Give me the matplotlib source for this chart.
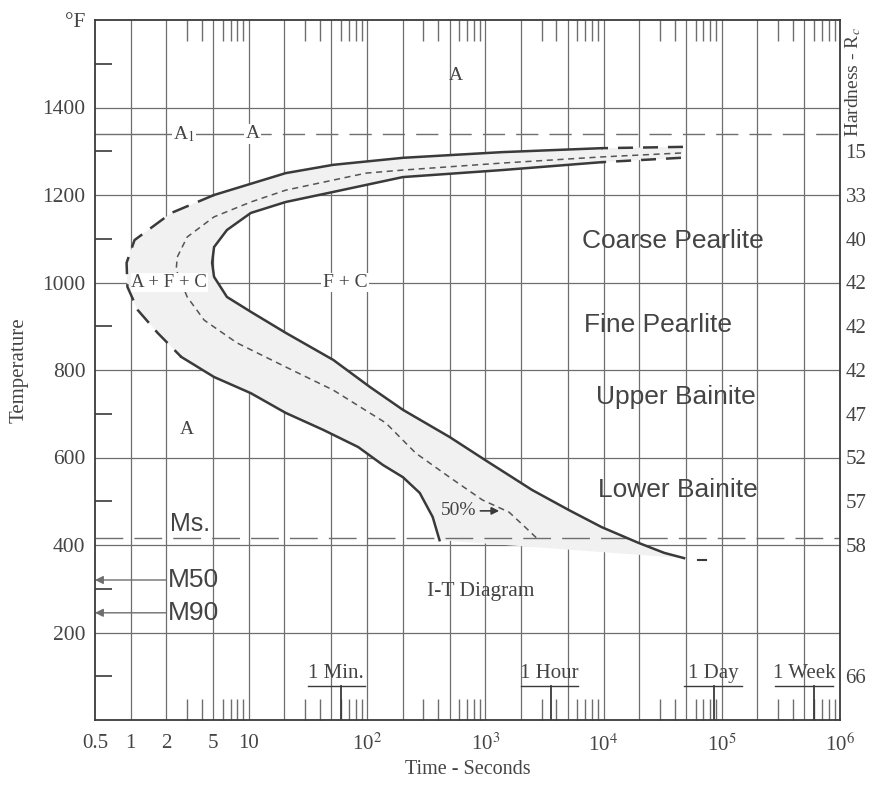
import matplotlib
matplotlib.use("Agg")
import matplotlib.pyplot as plt
from matplotlib.ticker import FixedLocator, FixedFormatter, NullFormatter

# ---------------- data ----------------
# transformation start curve (time s, temperature F)
start_t = [47000, 9600, 1390, 201, 51.8, 20.5, 5.08, 2.21, 1.08, 0.925, 0.94,
           1.15, 1.69, 2.68, 5.08, 10.4, 20.5, 42.7, 84, 136, 201, 279, 359, 410]
start_T = [1310, 1307, 1298, 1285, 1269, 1250, 1200, 1159, 1097, 1045, 990,
           937, 885, 830, 784, 747, 702, 663, 624, 583, 555, 519, 464, 411]
# 50 % transformation curve
mid_t = [45200, 9600, 1390, 201, 98, 20.5, 10.4, 5.08, 3.01, 2.48, 2.43, 3.01,
         4.19, 7.93, 20.5, 51.8, 144, 258, 498, 944, 1590, 2170, 2840]
mid_T = [1296, 1287, 1273, 1257, 1250, 1211, 1184, 1150, 1104, 1058, 1029, 967,
         914, 862, 807, 754, 679, 610, 555, 503, 475, 441, 411]
# transformation finish curve
fin_t = [45200, 9600, 1390, 201, 51.8, 20.5, 10.4, 6.53, 5.08, 4.89, 5.08, 6.53,
         10.4, 20.5, 51.8, 106, 201, 498, 1000, 2480, 5080, 9620, 19700, 32600, 48000]
fin_T = [1285, 1275, 1257, 1241, 1207, 1184, 1159, 1120, 1081, 1045, 1013, 967,
         933, 885, 823, 761, 709, 647, 594, 526, 480, 441, 405, 382, 370]
fin_tail_t = [63000, 74000]
fin_tail_T = [366, 366]

A1_temp = 1340
Ms_temp = 415
M50_temp = 320
M90_temp = 245

x_tick_vals = [0.5, 1, 2, 5, 10, 1e2, 1e3, 1e4, 1e5, 1e6]
x_tick_labels = ["0.5", "1", "2", "5", "10", "10$^2$", "10$^3$", "10$^4$", "10$^5$", "10$^6$"]
x_grid = [1, 2, 5, 10, 20, 50, 100, 200, 500, 1e3, 2e3, 5e3, 1e4, 2e4, 5e4,
          1e5, 2e5, 5e5]
y_tick_vals = [200, 400, 600, 800, 1000, 1200, 1400, 1600]
y_tick_labels = ["200", "400", "600", "800", "1000", "1200", "1400", "°F"]
y_minor = [100, 300, 500, 700, 900, 1100, 1300, 1500]

hard_T = [1300, 1200, 1100, 1000, 900, 800, 700, 600, 500, 400, 100]
hard_labels = ["15", "33", "40", "42", "42", "42", "47", "52", "57", "58", "66"]

time_marks = [60, 3600, 86400, 604800]
time_mark_label_pos = [55, 3500, 84000, 498000]
time_mark_labels = ["1 Min.", "1 Hour", "1 Day", "1 Week"]

# ---------------- style ----------------
plt.rcParams["font.family"] = ["Liberation Serif", "DejaVu Serif"]
plt.rcParams["mathtext.fontset"] = "stix"
INK = "#3a3a3a"
GRID = "#6e6e6e"
TXT = "#444444"
SANS = ["Liberation Sans", "DejaVu Sans"]

fig = plt.figure(figsize=(8.81, 7.86), dpi=100)
ax = fig.add_axes([95 / 881, 66 / 786, 745 / 881, 700 / 786])
ax.set_xscale("log")
ax.set_xlim(0.5, 1e6)
ax.set_ylim(0, 1600)

for s in ax.spines.values():
    s.set_color(INK)
    s.set_linewidth(1.3)

# grid
for g in x_grid:
    ax.axvline(g, color=GRID, lw=0.9, zorder=1)
for yv in y_tick_vals[:-1]:
    ax.axhline(yv, color=GRID, lw=0.9, zorder=1)

# ticks
ax.xaxis.set_major_locator(FixedLocator(x_tick_vals))
ax.xaxis.set_major_formatter(FixedFormatter(x_tick_labels))
ax.xaxis.set_minor_locator(FixedLocator(
    [m * 10.0 ** k for k in range(0, 6) for m in (3, 4, 6, 7, 8, 9)]))
ax.xaxis.set_minor_formatter(NullFormatter())
ax.tick_params(axis="x", which="major", length=0, pad=10, labelsize=15,
               labelcolor=TXT)
ax.tick_params(axis="x", which="minor", direction="in", length=15, width=1.0,
               color=GRID, top=True, bottom=True)

ax.yaxis.set_major_locator(FixedLocator(y_tick_vals))
ax.yaxis.set_major_formatter(FixedFormatter(y_tick_labels))
ax.yaxis.set_minor_locator(FixedLocator(y_minor))
ax.tick_params(axis="y", which="major", length=0, pad=7, labelsize=15.5,
               labelcolor=TXT)
ax.tick_params(axis="y", which="minor", direction="in", length=12, width=1.2,
               color=INK, left=True, right=True)

ax.set_ylabel("Temperature", fontsize=15, color=TXT, labelpad=10)
ax.set_xlabel("Time - Seconds", fontsize=14.5, color=TXT, labelpad=3)

# right hardness axis
ax2 = ax.twinx()
ax2.set_ylim(0, 1600)
ax2.yaxis.set_major_locator(FixedLocator(hard_T))
ax2.yaxis.set_major_formatter(FixedFormatter(hard_labels))
ax2.tick_params(axis="y", length=0, pad=4, labelsize=15, labelcolor=TXT)
for s in ax2.spines.values():
    s.set_visible(False)
fig.text(853 / 881, 1 - 82 / 786, "Hardness - R$_c$", rotation=90,
         ha="center", va="center", fontsize=14, color=TXT)

# shaded band between start and finish
ax.fill(start_t + fin_t[::-1], start_T + fin_T[::-1], color="#f1f1f1", zorder=1.5,
        lw=0)

# start curve segments
ax.plot(start_t[0:2], start_T[0:2], color=INK, lw=1.8, ls=(0, (6, 4)), zorder=3)
ax.plot(start_t[1:7], start_T[1:7], color=INK, lw=1.8, zorder=3)
ax.plot(start_t[6:14], start_T[6:14], color=INK, lw=1.8, ls=(0, (7, 4)), zorder=3)
ax.plot(start_t[13:], start_T[13:], color=INK, lw=1.8, zorder=3)
# 50% curve
ax.plot(mid_t, mid_T, color="#555555", lw=1.1, ls=(0, (4, 3)), zorder=3)
# finish curve
ax.plot(fin_t[0:2], fin_T[0:2], color=INK, lw=1.8, ls=(0, (6, 4)), zorder=3)
ax.plot(fin_t[1:], fin_T[1:], color=INK, lw=1.8, zorder=3)
ax.plot(fin_tail_t, fin_tail_T, color=INK, lw=1.5, zorder=3)

# A1 line
ax.plot([0.5, 10], [A1_temp, A1_temp], color=GRID, lw=1.0, zorder=2)
ax.plot([10, 1e6], [A1_temp, A1_temp], color=GRID, lw=1.0, ls=(0, (16, 8)), zorder=2)
# Ms line
ax.plot([0.5, 1e6], [Ms_temp, Ms_temp], color=GRID, lw=1.0, ls=(0, (20, 8)), zorder=2)

# M50 / M90 arrows
for T, lab in [(M50_temp, "M50"), (M90_temp, "M90")]:
    ax.annotate("", xy=(0.5, T), xytext=(2.0, T),
                arrowprops=dict(arrowstyle="-|>", color=GRID, lw=1.0,
                                mutation_scale=12, shrinkA=0, shrinkB=0))
    ax.text(2.08, T, lab, family=SANS, fontsize=19, color=TXT,
            ha="left", va="center")
ax.text(2.15, Ms_temp + 5, "Ms.", family=SANS, fontsize=18, color=TXT,
        ha="left", va="bottom")

# 50% label with arrow
ax.annotate("50%", xy=(1310, 478), xytext=(593, 478), fontsize=14,
            color=TXT, ha="center", va="center",
            arrowprops=dict(arrowstyle="-|>", color=INK, lw=1.2,
                            mutation_scale=11, shrinkA=1, shrinkB=0))

# region labels
wb = dict(facecolor="white", edgecolor="none", pad=1.0)
ax.text(560, 1474, "A", fontsize=14, color=TXT, ha="center", va="center")
ax.text(2.84, A1_temp, "A$_1$", fontsize=14, color=TXT, ha="center",
        va="center", bbox=wb, zorder=4)
ax.text(10.8, A1_temp, "A", fontsize=14, color=TXT, ha="center",
        va="center", bbox=wb, zorder=4)
ax.text(2.13, 1000, "A + F + C", fontsize=13.5, color=TXT, ha="center",
        va="center", bbox=dict(facecolor="white", edgecolor="none", pad=0.5),
        zorder=4)
ax.text(65, 1000, "F + C", fontsize=14, color=TXT, ha="center",
        va="center", bbox=wb, zorder=4)
ax.text(3.0, 663, "A", fontsize=14, color=TXT, ha="center", va="center")
ax.text(908, 293, "I-T Diagram", fontsize=15.5, color=TXT, ha="center",
        va="center")
for tx, Ty, lab in [(38700, 1095, "Coarse Pearlite"), (29000, 903, "Fine Pearlite"),
                    (41000, 738, "Upper Bainite"), (42700, 526, "Lower Bainite")]:
    ax.text(tx, Ty, lab, family=SANS, fontsize=19, color=TXT,
            ha="center", va="center", zorder=4)

# time marks
for tm, tl, lab in zip(time_marks, time_mark_label_pos, time_mark_labels):
    ax.text(tl, 84, lab, fontsize=15, color=TXT, ha="center", va="bottom")
    ax.plot([tl / 1.75, tl * 1.75], [78, 78], color=INK, lw=1.0)
    ax.plot([tm, tm], [0, 78], color=INK, lw=1.3)

fig.savefig("out.png", dpi=100)
